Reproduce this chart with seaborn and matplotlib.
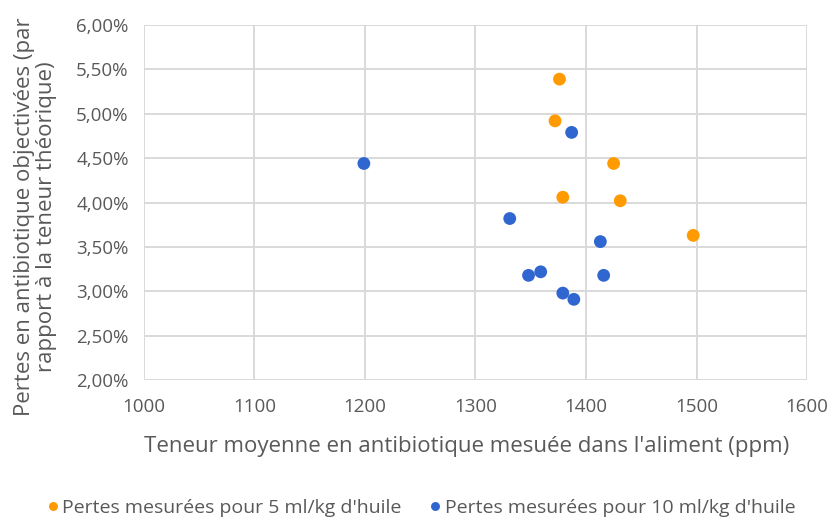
import matplotlib
matplotlib.use("Agg")
import matplotlib.pyplot as plt
import matplotlib.ticker as mticker
import seaborn as sns
import pandas as pd

# teneur moyenne (ppm) et pertes (%)
x_5ml = [1376, 1372, 1425, 1379, 1431, 1497]
y_5ml = [5.39, 4.92, 4.44, 4.06, 4.02, 3.63]
x_10ml = [1199, 1387, 1331, 1413, 1348, 1359, 1416, 1379, 1389]
y_10ml = [4.44, 4.79, 3.82, 3.56, 3.18, 3.22, 3.18, 2.98, 2.91]

lab_5 = "Pertes mesurées pour 5 ml/kg d'huile"
lab_10 = "Pertes mesurées pour 10 ml/kg d'huile"

df = pd.DataFrame({
    'teneur': x_5ml + x_10ml,
    'pertes': y_5ml + y_10ml,
    'serie': [lab_5] * len(x_5ml) + [lab_10] * len(x_10ml),
})

sns.set_style("white")
plt.rcParams['font.family'] = ['Open Sans', 'DejaVu Sans']
grey = '#595959'

fig, ax = plt.subplots(figsize=(8.32, 5.2), dpi=100)
fig.subplots_adjust(left=0.173, right=0.970, top=0.952, bottom=0.269)

sns.scatterplot(data=df, x='teneur', y='pertes', hue='serie',
                palette={lab_5: '#FF9A00', lab_10: '#3066D0'},
                s=85, edgecolor='none', ax=ax, zorder=3)

ax.set_xlim(1000, 1600)
ax.set_ylim(2.0, 6.0)
ax.xaxis.set_major_locator(mticker.MultipleLocator(100))
ax.yaxis.set_major_locator(mticker.MultipleLocator(0.5))
ax.yaxis.set_major_formatter(mticker.FuncFormatter(lambda v, p: f"{v:.2f}%".replace('.', ',')))
ax.grid(True, color='#d9d9d9', linewidth=1.4)
ax.set_axisbelow(True)
for sp in ax.spines.values():
    sp.set_visible(False)
ax.tick_params(axis='both', length=0, labelsize=13.5, colors=grey)
ax.tick_params(axis='x', pad=13)
ax.tick_params(axis='y', pad=11)

ax.set_xlabel("Teneur moyenne en antibiotique mesuée dans l'aliment (ppm)",
              fontsize=16, color=grey, labelpad=14)
ax.set_ylabel("Pertes en antibiotique objectivées (par\nrapport à la teneur théorique)",
              fontsize=16, color=grey, labelpad=14, linespacing=1.05)
ax.xaxis.label.set_x(0.487)
ax.yaxis.label.set_y(0.46)

leg = ax.legend(loc='center', bbox_to_anchor=(0.415, -0.36), ncol=2,
                frameon=False, fontsize=14, handletextpad=0.0,
                handlelength=1.0, columnspacing=1.2, markerscale=0.7)
for t in leg.get_texts():
    t.set_color(grey)

fig.savefig("out.png", dpi=100)
